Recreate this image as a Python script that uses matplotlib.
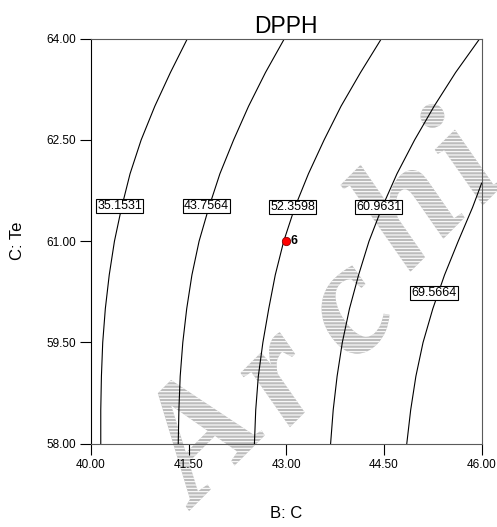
import matplotlib.pyplot as plt
import matplotlib.patheffects as pe

plt.rcParams['font.family'] = ['Liberation Sans', 'DejaVu Sans']
plt.rcParams['hatch.linewidth'] = 0.8

# C: Te values where the contour lines were traced
te = [58.0, 58.5, 59.0, 59.5, 60.0, 60.5, 61.0, 61.5, 62.0, 62.5, 63.0, 63.5, 64.0]

# B: C position of each DPPH contour at the Te values above
b_35 = [40.15, 40.15, 40.16, 40.18, 40.22, 40.28, 40.36, 40.47, 40.60, 40.77, 40.98, 41.22, 41.48]
b_43 = [41.34, 41.35, 41.37, 41.41, 41.47, 41.55, 41.66, 41.81, 41.98, 42.19, 42.42, 42.68, 42.97]
b_52 = [42.51, 42.53, 42.57, 42.64, 42.73, 42.83, 42.96, 43.13, 43.34, 43.58, 43.84, 44.14, 44.46]
b_60 = [43.68, 43.72, 43.78, 43.86, 43.97, 44.11, 44.27, 44.47, 44.70, 44.97, 45.27, 45.60, 45.97]

# the highest contour leaves through the right edge
te_69 = [58.0, 58.5, 59.0, 59.5, 60.0, 60.5, 61.0, 61.5, 61.86]
b_69 = [44.85, 44.91, 44.99, 45.10, 45.25, 45.43, 45.64, 45.86, 46.0]

levels = ['35.1531', '43.7564', '52.3598', '60.9631', '69.5664']
label_b = [40.44, 41.77, 43.10, 44.42, 45.27]
label_te = [61.52, 61.52, 61.51, 61.50, 60.23]

# design point
run_b = [43.0]
run_te = [61.0]
run_id = ['6']

xticks = [40.0, 41.5, 43.0, 44.5, 46.0]
yticks = [58.0, 59.5, 61.0, 62.5, 64.0]

fig = plt.figure(figsize=(4.97, 5.27), dpi=100)
ax = fig.add_axes([0.1831, 0.158, 0.786, 0.7685])
ax.patch.set_alpha(0)

curves = [(b_35, te), (b_43, te), (b_52, te), (b_60, te), (b_69, te_69)]
for bx, ty in curves:
    ax.plot(bx, ty, color='black', lw=0.8, zorder=2)

for lab, bx, ty in zip(levels, label_b, label_te):
    ax.text(bx, ty, lab, ha='center', va='center', fontsize=9, zorder=4,
            bbox=dict(boxstyle='square,pad=0.08', fc='white', ec='black', lw=0.8))

ax.plot(run_b, run_te, 'o', ms=6, mfc='red', mec='#8b0000', mew=0.6, zorder=5)
for bx, ty, rid in zip(run_b, run_te, run_id):
    ax.annotate(rid, (bx, ty), xytext=(3, 0), textcoords='offset points',
                va='center', ha='left', fontsize=9, fontweight='bold', zorder=5)

# hatched watermark letters under the axes, set one by one along a diagonal
wm_letters = ['A', 'r', 'c', 'h', 'i']
wm_pos = [(205, 440), (282, 380), (352, 312), (412, 215), (468, 165)]
hatch_fx = [pe.PathPatchEffect(facecolor='#bcbcbc', edgecolor='white',
                               hatch='-----', linewidth=0)]
for ch, (px, py) in zip(wm_letters, wm_pos):
    t = fig.text(px / 497, 1 - py / 527, ch, rotation=45, ha='center', va='center',
                 fontsize=115, family='Liberation Serif', style='italic',
                 fontweight='bold', color='#bcbcbc', zorder=-1)
    t.set_path_effects(hatch_fx)

ax.set_xlim(40, 46)
ax.set_ylim(58, 64)
ax.set_xticks(xticks)
ax.set_xticklabels(['%.2f' % v for v in xticks])
ax.set_yticks(yticks)
ax.set_yticklabels(['%.2f' % v for v in yticks])
ax.tick_params(direction='out', length=8, width=0.8, pad=3, labelsize=8.5)

ax.spines['left'].set_color('black')
for side in ['top', 'right', 'bottom']:
    ax.spines[side].set_color('#5a5a5a')

ax.set_title('DPPH', fontsize=16.5, pad=4)
ax.set_xlabel('B: C', fontsize=12, va='top')
ax.xaxis.set_label_coords(0.5, -0.154)
ax.set_ylabel('C: Te', fontsize=12)
ax.yaxis.set_label_coords(-0.168, 0.5)

fig.savefig('out.png', dpi=100)
